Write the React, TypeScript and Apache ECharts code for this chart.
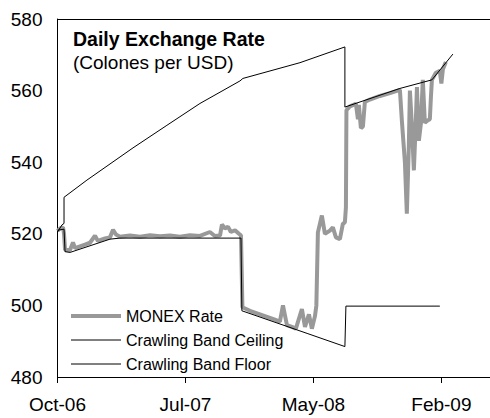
import React, { useEffect, useRef } from "react";
import * as echarts from "echarts";

// x positions are in "tick units": each labelled tick is 100 units apart
const tickLabels = ["Oct-06", "Jul-07", "May-08", "Feb-09"];

const monexX = [0, 2, 4.3, 5.1, 5.9, 9.8, 12.1, 13.7, 21.5, 25.4, 29.3, 31.6, 37.1, 41, 43.4, 45.7, 48.8, 56.6, 64.5, 72.3, 80.1, 87.9, 95.7, 103.5, 111.3, 119.1, 123, 127, 128.5, 130.9, 133.2, 135.5, 138.7, 141.8, 143.4, 144.5, 150.4, 154.3, 158.2, 162.1, 166, 169.9, 173.8, 176.2, 179.3, 183.2, 186.3, 191, 193.4, 196.5, 198.8, 201.2, 202.3, 203.5, 206.6, 209, 212.9, 215.2, 217.6, 220.7, 223, 224.6, 225.4, 225.8, 228.5, 233.2, 234.8, 235.5, 237.1, 238.7, 240.2, 244.1, 252, 259.8, 267.6, 269.1, 271.5, 273, 274.6, 275.4, 277, 278.5, 280.1, 280.9, 282.4, 284, 285.5, 287.1, 289.5, 291, 291.8, 292.6, 295.7, 298.8, 300, 301.2, 303.5];
const monexY = [520.8, 521.5, 521.8, 520, 515.5, 515.5, 517.6, 516, 517, 517.5, 519.5, 518, 518.7, 519, 521.1, 519.8, 519.2, 519.5, 519.2, 519.6, 519.3, 519.5, 519.2, 519.6, 519.4, 520.5, 519.4, 519.5, 522.6, 521.5, 522, 520.5, 521, 520, 519.5, 499.5, 498.5, 498, 497.5, 497, 496.5, 496, 495.5, 500, 494.5, 494, 493.5, 499, 494, 497.5, 493.5, 497, 500, 520.4, 525.1, 520, 520.9, 521.8, 519, 518.5, 522.8, 523.2, 527.4, 554.5, 555.6, 556.3, 552, 556, 549.5, 550, 556.8, 557.5, 558.5, 559.3, 560.2, 551.7, 540, 525.6, 545, 560, 550, 537.7, 552, 561, 546, 550.8, 563, 551, 551.7, 552, 558, 563, 565, 565.5, 562, 566, 568];

const ceilingX = [0, 3.5, 5.1, 5.1, 23, 59, 85.5, 111.3, 142.6, 144.9, 189.5, 224.6, 224.6, 267.6, 292.6, 309];
const ceilingY = [520.5, 522.5, 522.9, 530.2, 535, 544, 550.3, 556.4, 562.7, 563.4, 567.8, 572.2, 555.4, 560.6, 563, 570.2];

const floorX = [0, 5.1, 5.9, 9.8, 41, 48.8, 143.4, 144.1, 195.7, 224.6, 225.4, 298.8];
const floorY = [521, 521.3, 515, 514.8, 518.5, 518.8, 518.8, 498.5, 492.1, 488.5, 499.8, 499.8];

const pairs = (xs: number[], ys: number[]) => xs.map((x, i) => [x, ys[i]]);

const FONT = "Liberation Sans, Arial, sans-serif";

export default function App() {
  const ref = useRef<HTMLDivElement>(null);
  useEffect(() => {
    if (!ref.current) return;
    const chart = echarts.init(ref.current, undefined, { renderer: "svg" });
    const xCommon = { type: "value" as const, min: 0, max: 338, interval: 100 };
    chart.setOption({
      animation: false,
      backgroundColor: "#ffffff",
      textStyle: { fontFamily: FONT },
      title: [
        {
          text: "Daily Exchange Rate",
          left: 73,
          top: 29,
          padding: 0,
          textStyle: { fontFamily: FONT, fontSize: 19.5, fontWeight: "bold", color: "#000" },
        },
        {
          text: "(Colones per USD)",
          left: 73,
          top: 53,
          padding: 0,
          textStyle: { fontFamily: FONT, fontSize: 19, fontWeight: "normal", color: "#000" },
        },
      ],
      grid: { left: 57.5, right: 0, top: 19, bottom: 41, containLabel: false },
      legend: {
        orient: "vertical",
        left: 69,
        top: 308,
        itemWidth: 50,
        itemHeight: 14,
        itemGap: 8,
        padding: 0,
        itemStyle: { opacity: 0 },
        textStyle: { fontFamily: FONT, fontSize: 16, color: "#000" },
        data: [
          { name: "MONEX Rate", lineStyle: { width: 4, color: "#999999" } },
          { name: "Crawling Band Ceiling", lineStyle: { width: 1, color: "#000" } },
          { name: "Crawling Band Floor", lineStyle: { width: 1, color: "#000" } },
        ],
      },
      xAxis: [
        {
          ...xCommon,
          position: "bottom",
          axisLine: { show: true, lineStyle: { color: "#000", width: 1 } },
          axisTick: { show: true, length: 6, inside: false, lineStyle: { color: "#000" } },
          splitLine: { show: false },
          axisLabel: {
            margin: 18,
            fontFamily: FONT,
            fontSize: 19,
            color: "#000",
            showMaxLabel: false,
            formatter: (v: number) => tickLabels[Math.round(v / 100)] ?? "",
          },
        },
        {
          ...xCommon,
          position: "top",
          axisLine: { show: true, lineStyle: { color: "#000", width: 1 } },
          axisTick: { show: false },
          axisLabel: { show: false },
          splitLine: { show: false },
        },
      ],
      yAxis: {
        type: "value",
        min: 480,
        max: 580,
        interval: 20,
        axisLine: { show: true, lineStyle: { color: "#000", width: 1 } },
        axisTick: { show: false },
        splitLine: { show: false },
        axisLabel: { margin: 15, fontFamily: FONT, fontSize: 19, color: "#000" },
      },
      series: [
        {
          name: "MONEX Rate",
          type: "line",
          xAxisIndex: 0,
          data: pairs(monexX, monexY),
          symbol: "none",
          lineStyle: { color: "#999999", width: 4 },
          itemStyle: { color: "#999999" },
          z: 2,
        },
        {
          name: "Crawling Band Ceiling",
          type: "line",
          xAxisIndex: 0,
          data: pairs(ceilingX, ceilingY),
          symbol: "none",
          lineStyle: { color: "#000", width: 1 },
          itemStyle: { color: "#000" },
          z: 3,
        },
        {
          name: "Crawling Band Floor",
          type: "line",
          xAxisIndex: 0,
          data: pairs(floorX, floorY),
          symbol: "none",
          lineStyle: { color: "#000", width: 1 },
          itemStyle: { color: "#000" },
          z: 3,
        },
      ],
    });
    return () => chart.dispose();
  }, []);
  return (
    <div
      ref={ref}
      style={{ position: "absolute", left: 0, top: 0, width: 490, height: 418 }}
    />
  );
}
